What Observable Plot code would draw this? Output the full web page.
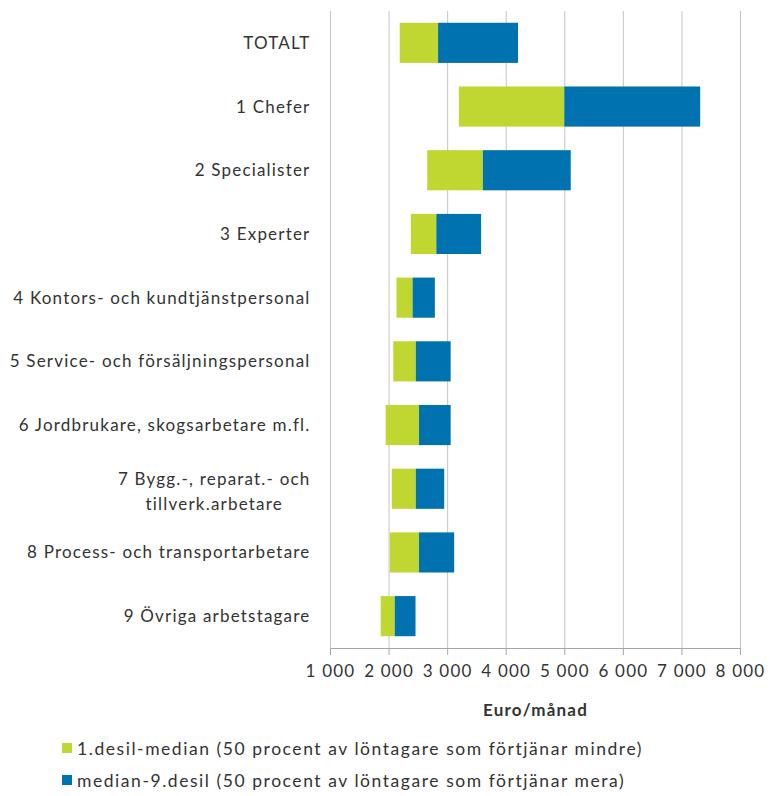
<!DOCTYPE html>
<html>
<head>
<meta charset="utf-8">
<script src="https://cdn.jsdelivr.net/npm/d3@7"></script>
<script src="https://cdn.jsdelivr.net/npm/@observablehq/plot@0.6"></script>
<style>
  body { margin: 0; background: #fff; font-family: Lato, "Noto Sans", sans-serif; color: #333; }
  #chart { width: 770px; }
  .legend { margin-top: 10px; font-size: 17.5px; letter-spacing: 1.55px; }
  .legend .item { display: flex; align-items: center; height: 32px; padding-left: 62px; }
  .legend .sw { width: 10px; height: 10px; margin-right: 5px; }
</style>
</head>
<body>
<div id="chart"></div>
<script>
const categories = [
  "TOTALT",
  "1 Chefer",
  "2 Specialister",
  "3 Experter",
  "4 Kontors- och kundtjänstpersonal",
  "5 Service- och försäljningspersonal",
  "6 Jordbrukare, skogsarbetare m.fl.",
  "7 Bygg.-, reparat.- och tillverk.arbetare",
  "8 Process- och transportarbetare",
  "9 Övriga arbetstagare"
];
const wrappedLabel = ["7 Bygg.-, reparat.- och", "tillverk.arbetare"];
const decile1 = [2190, 3200, 2660, 2380, 2135, 2080, 1950, 2055, 2020, 1865];
const median  = [2845, 5000, 3610, 2815, 2410, 2465, 2520, 2465, 2520, 2105];
const decile9 = [4210, 7320, 5110, 3580, 2790, 3060, 3060, 2950, 3120, 2460];
const xTicks = [1000, 2000, 3000, 4000, 5000, 6000, 7000, 8000];
const seriesNames = [
  "1.desil-median (50 procent av löntagare som förtjänar mindre)",
  "median-9.desil (50 procent av löntagare som förtjänar mera)"
];
const colors = ["#bfd730", "#0072b0"];

const rows = categories.map((c, i) => ({cat: c, d1: decile1[i], med: median[i], d9: decile9[i]}));
const fmt = d => d3.format(",")(d).replace(/,/g, " ");

const FONT = "Lato, 'Noto Sans', sans-serif";
const FS = 17;
const LS = 1.2;
// measure wrapped label's first line to center the two lines on each other
const ctx = document.createElement("canvas").getContext("2d");
ctx.font = `${FS}px Lato`;
const w1 = ctx.measureText(wrappedLabel[0]).width + LS * wrappedLabel[0].length;

const wrappedCat = categories[7];
const singleCats = categories.filter(c => c !== wrappedCat);

const chart = Plot.plot({
  width: 770,
  height: 722,
  marginLeft: 330,
  marginRight: 30,
  marginTop: 11,
  marginBottom: 74,
  style: {fontFamily: FONT, fontSize: FS + "px", color: "#333", letterSpacing: LS + "px"},
  x: {domain: [1000, 8000], ticks: xTicks, tickFormat: fmt, label: null},
  y: {domain: categories, paddingInner: 0.37, paddingOuter: 0.185, round: false, axis: null},
  marks: [
    Plot.gridX(xTicks, {stroke: "#c4c4c4", strokeOpacity: 1, strokeWidth: 1}),
    Plot.barX(rows, {y: "cat", x1: "d1", x2: "med", fill: colors[0]}),
    Plot.barX(rows, {y: "cat", x1: "med", x2: "d9", fill: colors[1]}),
    Plot.frame({anchor: "bottom", stroke: "#a6a6a6"}),
    Plot.axisX({ticks: xTicks, tickFormat: fmt, tickSize: 7, tickPadding: 9, stroke: "#a6a6a6", strokeOpacity: 1, fill: "#333", fontSize: FS, label: null}),
    Plot.axisY({ticks: singleCats, tickSize: 0, tickPadding: 20, fill: "#333", fontSize: FS, label: null}),
    Plot.axisY({ticks: [wrappedCat], tickSize: 0, tickPadding: 20 + w1 / 2, textAnchor: "middle", lineHeight: 1.5,
      tickFormat: () => wrappedLabel.join("\n"), fill: "#333", fontSize: FS, label: null}),
    Plot.text(["Euro/månad"], {frameAnchor: "bottom", dy: 67, fontWeight: "bold", fontSize: FS, fill: "#333"})
  ]
});
const root = document.getElementById("chart");
root.appendChild(chart);

const legend = document.createElement("div");
legend.className = "legend";
seriesNames.forEach((n, i) => {
  const it = document.createElement("div");
  it.className = "item";
  const sw = document.createElement("span");
  sw.className = "sw";
  sw.style.background = colors[i];
  const tx = document.createElement("span");
  tx.textContent = n;
  it.appendChild(sw);
  it.appendChild(tx);
  legend.appendChild(it);
});
root.appendChild(legend);
</script>
</body>
</html>
